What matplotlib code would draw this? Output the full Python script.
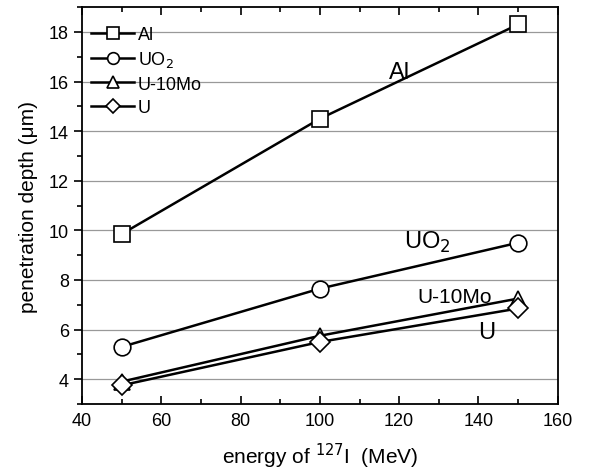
import numpy as np
import matplotlib
matplotlib.use("Agg")
import matplotlib.pyplot as plt
from matplotlib.ticker import MultipleLocator

plt.rcParams['font.family'] = ['Liberation Sans', 'DejaVu Sans']

# energia ion 127I (MeV)
energy = [50, 100, 150]
# kedalaman penetrasi (um)
al = [9.85, 14.5, 18.3]
uo2 = [5.3, 7.65, 9.5]
u10mo = [3.9, 5.75, 7.25]
u = [3.75, 5.5, 6.85]

series = [
    ("Al", al, "s"),
    ("UO$_2$", uo2, "o"),
    ("U-10Mo", u10mo, "^"),
    ("U", u, "D"),
]

fig = plt.figure(figsize=(5.94, 4.77), dpi=100)
ax = fig.add_axes([0.138, 0.151, 0.801, 0.832])

for name, vals, mk in series:
    ms = 12 if mk != "D" else 10
    ax.plot(energy, vals, color="black", lw=1.8, marker=mk, ms=ms,
            mfc="white", mec="black", mew=1.2, label=name)

# label di dalam plot
ax.text(120, 16.4, "Al", fontsize=17, ha="center", va="center")
ax.text(127, 9.55, "UO$_2$", fontsize=17, ha="center", va="center")
ax.text(134, 7.35, "U-10Mo", fontsize=15, ha="center", va="center")
ax.text(142, 5.9, "U", fontsize=17, ha="center", va="center")

ax.set_xlim(40, 160)
ax.set_ylim(3, 19)
ax.xaxis.set_major_locator(MultipleLocator(20))
ax.xaxis.set_minor_locator(MultipleLocator(10))
ax.yaxis.set_minor_locator(MultipleLocator(1))
ax.set_yticks(np.arange(4, 19, 2))
ax.grid(axis="y", color="#999999", lw=0.9)
ax.set_axisbelow(True)

ax.tick_params(axis="x", which="both", direction="in", top=True, labelsize=13, pad=6)
ax.tick_params(axis="y", which="both", direction="out", labelsize=13)
ax.tick_params(which="major", length=6, width=1.2)
ax.tick_params(which="minor", length=3.5, width=1.2)
for s in ax.spines.values():
    s.set_linewidth(1.3)

ax.set_xlabel("energy of $^{127}$I  (MeV)", fontsize=15, labelpad=8)
ax.set_ylabel("penetration depth (\u03bcm)", fontsize=15, labelpad=8)

ax.legend(loc="upper left", bbox_to_anchor=(0.0, 0.975), frameon=False,
          fontsize=13, handlelength=2.4, borderaxespad=0.2,
          labelspacing=0.35, handletextpad=0.2, borderpad=0.3,
          markerscale=0.7)

fig.savefig("out.png", dpi=100)
